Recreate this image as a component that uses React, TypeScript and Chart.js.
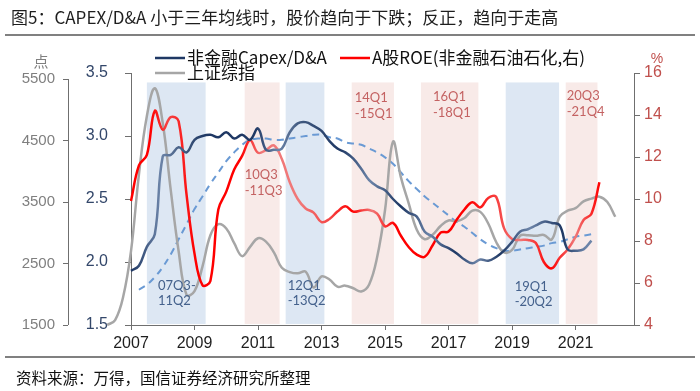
import React, { useEffect, useRef } from 'react';
import { Chart, registerables } from 'chart.js';

Chart.register(...registerables);

// ---------- data ----------
const quarters = [
  '2006Q2', '2006Q3', '2006Q4',
  '2007Q1', '2007Q2', '2007Q3', '2007Q4',
  '2008Q1', '2008Q2', '2008Q3', '2008Q4',
  '2009Q1', '2009Q2', '2009Q3', '2009Q4',
  '2010Q1', '2010Q2', '2010Q3', '2010Q4',
  '2011Q1', '2011Q2', '2011Q3', '2011Q4',
  '2012Q1', '2012Q2', '2012Q3', '2012Q4',
  '2013Q1', '2013Q2', '2013Q3', '2013Q4',
  '2014Q1', '2014Q2', '2014Q3', '2014Q4',
  '2015Q1', '2015Q2', '2015Q3', '2015Q4',
  '2016Q1', '2016Q2', '2016Q3', '2016Q4',
  '2017Q1', '2017Q2', '2017Q3', '2017Q4',
  '2018Q1', '2018Q2', '2018Q3', '2018Q4',
  '2019Q1', '2019Q2', '2019Q3', '2019Q4',
  '2020Q1', '2020Q2', '2020Q3', '2020Q4',
  '2021Q1', '2021Q2', '2021Q3', '2021Q4',
  '2022Q1', '2022Q2',
];

// 非金融 Capex/D&A (left inner axis), from 2007Q1
const capexStart = '2007Q1';
const capexRatio = [
  1.93, 1.97, 2.12, 2.22, 2.84, 2.85, 2.91, 2.87, 2.97, 3.00,
  3.01, 2.99, 3.03, 2.98, 3.01, 2.97, 3.06, 2.89, 2.89, 2.90,
  3.03, 3.10, 3.11, 3.08, 3.04, 2.96, 2.90, 2.87, 2.82, 2.74,
  2.65, 2.60, 2.57, 2.50, 2.44, 2.39, 2.36, 2.24, 2.20, 2.14,
  2.11, 2.07, 2.02, 1.99, 2.02, 2.01, 2.04, 2.09, 2.16, 2.24,
  2.26, 2.29, 2.32, 2.31, 2.29, 2.10, 2.09, 2.10, 2.17,
];

// three-year average of Capex/D&A (dashed), from 2007Q2
const capexAvgStart = '2007Q2';
const capexAvg3y = [
  1.78, 1.82, 1.88, 1.96, 2.06, 2.18, 2.30, 2.42, 2.52, 2.62,
  2.71, 2.80, 2.87, 2.93, 2.97, 2.98, 2.98, 2.97, 2.97, 2.98,
  2.99, 3.00, 3.01, 3.01, 2.99, 2.98, 2.95, 2.94, 2.93, 2.90,
  2.87, 2.83, 2.78, 2.71, 2.64, 2.58, 2.52, 2.47, 2.42, 2.37,
  2.32, 2.28, 2.23, 2.18, 2.14, 2.11, 2.09, 2.09, 2.10, 2.11,
  2.12, 2.13, 2.15, 2.16, 2.18, 2.20, 2.21, 2.22,
];

// A股ROE (非金融石油石化), % (right axis), from 2007Q1
const roeStart = '2007Q1';
const roe = [
  9.9, 11.6, 12.1, 14.2, 13.3, 13.9, 13.7, 10.2, 7.4, 5.9,
  6.1, 9.5, 10.35, 11.4, 12.05, 12.8, 12.2, 12.33, 12.55, 11.9,
  10.8, 10.0, 9.55, 9.35, 8.9, 9.05, 9.4, 9.65, 9.4, 9.45,
  9.48, 9.3, 8.7, 8.86, 8.25, 7.7, 7.35, 7.25, 7.8, 8.4,
  8.45, 9.0, 9.5, 9.85, 9.6, 10.05, 10.1, 8.6, 8.1, 8.05,
  8.05, 7.9, 7.0, 6.7, 7.2, 7.6, 8.2, 9.0, 9.3, 10.8,
];

// 上证综指 (outer left axis), from 2006Q2
const shStart = '2006Q2';
const shIndex = [
  1500, 1580, 1950, 2700, 3950, 4900, 5350, 4784, 3700, 2700,
  1990, 2050, 2450, 2960, 3140, 3070, 2830, 2620, 2770, 2910,
  2855, 2680, 2430, 2360, 2340, 2367, 2110, 2290, 2240, 2123,
  2140, 2097, 2045, 2160, 2600, 3370, 4480, 3900, 3470, 3050,
  2895, 2970, 3110, 3200, 3185, 3240, 3360, 3340, 3150, 2850,
  2680, 2720, 2950, 2960, 2950, 2965, 2890, 3262, 3360, 3400,
  3510, 3555, 3587, 3500, 3260,
];

const xTickYears = [2007, 2009, 2011, 2013, 2015, 2017, 2019, 2021];
const shTicks = [1500, 2500, 3500, 4500, 5500];

// shaded periods
const bandStarts = [2007.5, 2010.58, 2011.87, 2013.95, 2016.13, 2018.8, 2020.69];
const bandEnds = [2009.35, 2011.68, 2013.09, 2015.28, 2017.94, 2020.48, 2021.69];
const bandKinds = ['blue', 'pink', 'blue', 'pink', 'pink', 'blue', 'pink'];
const bandLabelTop = ['07Q3-', '10Q3', '12Q1', '14Q1', '16Q1', '19Q1', '20Q3'];
const bandLabelBottom = ['11Q2', '-11Q3', '-13Q2', '-15Q1', '-18Q1', '-20Q2', '-21Q4'];

// ---------- style ----------
const CJK = '"Noto Sans CJK SC", "Noto Sans", sans-serif';
const NUM = '"Liberation Sans", Arial, sans-serif';
const LBL = 'Lato, "Noto Sans", sans-serif';
const BAND_BLUE = 'rgb(221,231,243)';
const BAND_PINK = 'rgb(248,234,232)';
const NAVY = '#1F3864';
const RED = '#FF0000';
const GRAY = '#A6A6A6';
const DASH = '#6A9AD4';
const AXIS = '#6F6F6F';
// label layout: [dx from band start (px), y top line (px), y bottom line (px)]
const bandLabelLayout: [number, number, number][] = [
  [11, 286, 301], [0, 175, 191], [2, 286, 301], [3, 98, 114],
  [12, 97, 113], [9, 287, 302], [1, 96, 112],
];

function quarterToYear(q: string): number {
  const y = parseInt(q.slice(0, 4), 10);
  const n = parseInt(q.slice(5), 10);
  return y + (n - 1) * 0.25;
}
function toPoints(start: string, values: number[]) {
  const i0 = quarters.indexOf(start);
  return values.map((v, i) => ({ x: quarterToYear(quarters[i0 + i]), y: v }));
}

function gradientFor(stops: [number, string][]) {
  return (c: any) => {
    const chart = c.chart;
    const area = chart.chartArea;
    if (!area) return stops[0][1];
    const g = chart.ctx.createLinearGradient(area.left, 0, area.right, 0);
    stops.forEach(([f, col]) => g.addColorStop(Math.min(1, Math.max(0, f)), col));
    return g;
  };
}
const NL = '#6C84A8';
const NM = '#40597F';
const navyStops: [number, string][] = [
  [0, NAVY], [0.058, NL], [0.107, NM], [0.147, NAVY], [0.247, NAVY], [0.292, NL],
  [0.336, NM], [0.416, NAVY], [0.475, NL], [0.535, NAVY], [0.594, NL], [0.644, NAVY],
  [0.69, NL], [0.734, NAVY], [0.793, NL], [0.857, NAVY], [0.903, NL], [1, NL],
];
const RL = '#F07878';
const RM = '#F54545';
const redStops: [number, string][] = [
  [0, RED], [0.038, RED], [0.074, RM], [0.127, RED], [0.217, RED], [0.26, RL],
  [0.336, RL], [0.396, RM], [0.439, RED], [0.479, RL], [0.525, RED], [0.674, RED],
  [0.773, RL], [0.833, RED], [0.883, RL], [0.932, RED], [1, RED],
];

const decor = {
  id: 'decor',
  beforeDatasetsDraw(chart: any) {
    const { ctx, scales } = chart;
    const x = scales.x;
    const yR = scales.yR;
    const top = yR.getPixelForValue(15.55);
    const bottom = yR.getPixelForValue(4.05);
    ctx.save();
    bandStarts.forEach((s, i) => {
      const x0 = x.getPixelForValue(s);
      const x1 = x.getPixelForValue(bandEnds[i]);
      ctx.fillStyle = bandKinds[i] === 'blue' ? BAND_BLUE : BAND_PINK;
      ctx.fillRect(x0, top, x1 - x0, bottom - top);
    });
    ctx.restore();
  },
  afterDatasetsDraw(chart: any) {
    const { ctx, scales } = chart;
    const x = scales.x;
    ctx.save();
    ctx.font = `13px ${LBL}`;
    ctx.textBaseline = 'middle';
    ctx.textAlign = 'left';
    bandStarts.forEach((s, i) => {
      const [dx, y1, y2] = bandLabelLayout[i];
      const x0 = x.getPixelForValue(s) + dx;
      ctx.fillStyle = bandKinds[i] === 'blue' ? '#44618C' : '#C46262';
      ctx.fillText(bandLabelTop[i], x0, y1);
      ctx.fillText(bandLabelBottom[i], x0, y2);
    });
    ctx.restore();
  },
  afterDraw(chart: any) {
    const { ctx, scales, width } = chart;
    ctx.save();
    // title
    ctx.fillStyle = '#1E1E1E';
    ctx.font = `17px ${CJK}`;
    ctx.textBaseline = 'middle';
    ctx.textAlign = 'left';
    ctx.fillText('图5：CAPEX/D&A 小于三年均线时，股价趋向于下跌；反正，趋向于走高', 11, 18);
    // rules
    ctx.strokeStyle = '#808080';
    ctx.lineWidth = 2;
    ctx.beginPath();
    ctx.moveTo(5, 35);
    ctx.lineTo(width - 5, 35);
    ctx.moveTo(5, 357);
    ctx.lineTo(width - 5, 357);
    ctx.stroke();
    // source
    ctx.fillStyle = '#111';
    ctx.font = `15.5px ${CJK}`;
    ctx.fillText('资料来源：万得，国信证券经济研究所整理', 16, 378);
    // outer axis line (上证综指)
    const s = scales.ySH;
    const ax = Math.round(s.right + 0.5) - 0.5;
    ctx.strokeStyle = AXIS;
    ctx.lineWidth = 1;
    ctx.beginPath();
    ctx.moveTo(ax, s.getPixelForValue(5500));
    ctx.lineTo(ax, s.getPixelForValue(1500));
    ctx.stroke();
    // unit labels
    ctx.font = `15px ${CJK}`;
    ctx.textAlign = 'center';
    ctx.fillStyle = '#7F7F7F';
    ctx.fillText('点', 41, 61);
    ctx.fillStyle = '#C0504D';
    ctx.font = `14px ${NUM}`;
    ctx.fillText('%', 657, 59);
    // legend
    ctx.textAlign = 'left';
    ctx.font = `17px ${CJK}`;
    const legend: [string, string, number, number][] = [
      ['非金融Capex/D&A', NAVY, 155, 58],
      ['A股ROE(非金融石油石化,右)', RED, 340, 58],
      ['上证综指', GRAY, 155, 73],
    ];
    legend.forEach(([t, col, lx, ly]) => {
      ctx.strokeStyle = col;
      ctx.lineWidth = 2.5;
      ctx.beginPath();
      ctx.moveTo(lx, ly);
      ctx.lineTo(lx + 30, ly);
      ctx.stroke();
      ctx.fillStyle = '#111';
      ctx.fillText(t, lx + 32, ly);
    });
    ctx.restore();
  },
};

export default function App() {
  const ref = useRef<HTMLCanvasElement>(null);
  useEffect(() => {
    const cfg: any = {
      type: 'line',
      data: {
        datasets: [
          {
            label: '非金融Capex/D&A',
            data: toPoints(capexStart, capexRatio),
            yAxisID: 'yC',
            borderColor: gradientFor(navyStops),
            borderWidth: 2.5,
            tension: 0.4,
            pointRadius: 0,
            order: 0,
          },
          {
            label: 'A股ROE(非金融石油石化,右)',
            data: toPoints(roeStart, roe),
            yAxisID: 'yR',
            borderColor: gradientFor(redStops),
            borderWidth: 2.5,
            tension: 0.4,
            pointRadius: 0,
            order: 1,
          },
          {
            label: '上证综指',
            data: toPoints(shStart, shIndex),
            yAxisID: 'ySH',
            borderColor: GRAY,
            borderWidth: 2.5,
            tension: 0.4,
            pointRadius: 0,
            clip: false,
            capBezierPoints: false,
            order: 2,
          },
          {
            label: '三年均线',
            data: toPoints(capexAvgStart, capexAvg3y),
            yAxisID: 'yC',
            borderColor: DASH,
            borderWidth: 2,
            borderDash: [7, 5],
            tension: 0.4,
            pointRadius: 0,
            order: 3,
          },
        ],
      },
      options: {
        responsive: false,
        animation: false,
        devicePixelRatio: 1,
        layout: { padding: { top: 73, bottom: 36, left: 0, right: 0 } },
        plugins: { legend: { display: false }, tooltip: { enabled: false }, title: { display: false } },
        elements: { point: { radius: 0 } },
        scales: {
          x: {
            type: 'linear',
            position: 'bottom',
            bounds: 'data',
            afterDataLimits: (s: any) => { s.min = 2007; s.max = 2022.84; },
            afterBuildTicks: (s: any) => { s.ticks = xTickYears.map((v) => ({ value: v })); },
            ticks: {
              callback: (v: any) => String(v),
              color: '#1E1E1E',
              font: { family: NUM, size: 16 },
              padding: 4,
              maxRotation: 0,
              autoSkip: false,
            },
            grid: { display: true, drawOnChartArea: false, drawTicks: true, tickLength: 5, color: AXIS },
            border: { display: true, color: AXIS, width: 1 },
            afterFit: (s: any) => { s.height = 30; },
          },
          ySH: {
            type: 'linear',
            position: 'left',
            weight: 2,
            min: 1500,
            max: 5598,
            bounds: 'data',
            afterBuildTicks: (s: any) => { s.ticks = shTicks.map((v) => ({ value: v })); },
            ticks: { callback: (v: any) => String(v), color: '#7F7F7F', font: { family: NUM, size: 15 }, padding: 8 },
            grid: { display: true, drawOnChartArea: false, drawTicks: true, tickLength: 5, color: AXIS },
            border: { display: false },
            afterFit: (s: any) => { s.width = 68; },
          },
          yC: {
            type: 'linear',
            position: 'left',
            weight: 1,
            min: 1.5,
            max: 3.5,
            ticks: {
              stepSize: 0.5,
              callback: (v: any) => Number(v).toFixed(1),
              color: '#33476A',
              font: { family: NUM, size: 16 },
              padding: 17,
            },
            grid: { display: true, drawOnChartArea: false, drawTicks: true, tickLength: 6, color: AXIS },
            border: { display: true, color: AXIS, width: 1 },
            afterFit: (s: any) => { s.width = 63; },
          },
          yR: {
            type: 'linear',
            position: 'right',
            min: 4,
            max: 16,
            ticks: { stepSize: 2, color: '#C0504D', font: { family: NUM, size: 16 }, padding: 4 },
            grid: { display: true, drawOnChartArea: false, drawTicks: true, tickLength: 6, color: AXIS },
            border: { display: true, color: AXIS, width: 1 },
            afterFit: (s: any) => { s.width = 66; },
          },
        },
      },
      plugins: [decor],
    };
    const chart = new Chart(ref.current as HTMLCanvasElement, cfg);
    return () => chart.destroy();
  }, []);
  return (
    <div style={{ position: 'fixed', left: 0, top: 0, width: 700, height: 391, background: '#fff' }}>
      <canvas ref={ref} width={700} height={391} style={{ display: 'block' }} />
    </div>
  );
}
